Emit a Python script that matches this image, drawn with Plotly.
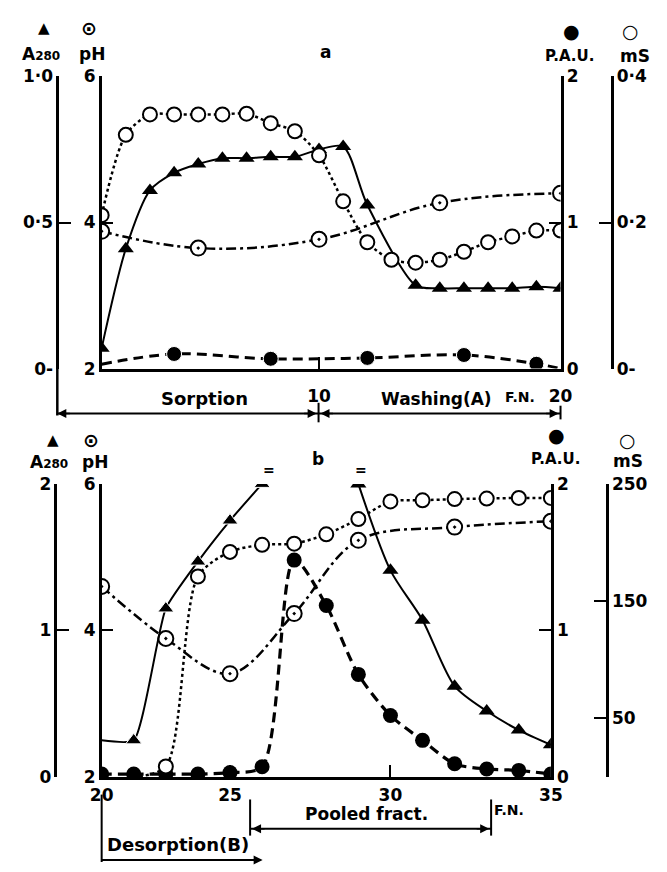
import plotly.graph_objects as go

W, H = 667, 872


def px(x):
    return x / W


def py(y):
    return 1 - y / H


# ---------------- Panel a data (fraction number F.N. 1-20) ----------------
a_fn_a280 = [1, 2, 3, 4, 5, 6, 7, 8, 9, 10, 11, 12, 14, 15, 16, 17, 18, 19, 20]
a_a280 = [0.07, 0.41, 0.61, 0.67, 0.70, 0.72, 0.72, 0.725, 0.725, 0.75, 0.76,
          0.56, 0.285, 0.275, 0.275, 0.275, 0.275, 0.28, 0.275]
a_fn_ms = [1, 2, 3, 4, 5, 6, 7, 8, 9, 10, 11, 12, 13, 14, 15, 16, 17, 18, 19, 20]
a_ms = [0.21, 0.32, 0.348, 0.348, 0.348, 0.348, 0.349, 0.336, 0.325, 0.292, 0.229,
        0.173, 0.149, 0.145, 0.149, 0.160, 0.173, 0.181, 0.189, 0.189]
a_fn_ph = [1, 5, 10, 15, 20]
a_ph = [3.88, 3.65, 3.77, 4.27, 4.40]
a_fn_pau = [1, 4, 8, 12, 16, 19, 20]
a_pau = [0.03, 0.10, 0.067, 0.073, 0.093, 0.033, 0.0]

# ---------------- Panel b data (F.N. 21-35) ----------------
b_fn_a280_1 = [21, 22, 23, 24, 25, 26]
b_a280_1 = [0.25, 0.25, 1.15, 1.47, 1.75, 2.0]
b_fn_a280_2 = [29, 30, 31, 32, 33, 34, 35]
b_a280_2 = [2.0, 1.41, 1.07, 0.62, 0.45, 0.32, 0.22]
b_fn_ph = [21, 23, 25, 27, 29, 32, 35]
b_ph = [4.6, 3.89, 3.41, 4.23, 5.23, 5.41, 5.49]
b_fn_ms = [22, 23, 24, 25, 26, 27, 28, 29, 30, 31, 32, 33, 34, 35]
b_ms = [0, 9, 171, 192, 198, 199, 207, 220, 235, 236, 237, 237.5, 238, 238]
b_fn_pau = [21, 22, 23, 24, 25, 26, 27, 28, 29, 30, 31, 32, 33, 34, 35]
b_pau = [0.02, 0.02, 0.02, 0.02, 0.03, 0.07, 1.48, 1.17, 0.70, 0.42, 0.25, 0.09,
         0.055, 0.045, 0.02]

# tick labels
a_x_ticks = [10, 20]
b_x_tickvals = [21, 25, 30, 35]
b_x_ticktext = ["20", "25", "30", "35"]

FONT = "DejaVu Sans"
BLACK = "black"


def sizes(n, s, skip_first=False, skip_last=False):
    out = [s] * n
    if skip_first:
        out[0] = 0
    if skip_last:
        out[-1] = 0
    return out


fig = go.Figure()

tri = dict(symbol="triangle-up", size=14, color=BLACK, opacity=1)
opn = dict(symbol="circle", size=14, color="white", opacity=1, line=dict(color=BLACK, width=2))
dotc = dict(symbol="circle-dot", size=15, color="white", opacity=1, line=dict(color=BLACK, width=2))
fil = dict(symbol="circle", size=15, color=BLACK, opacity=1)

DASHDOT = "10px,4px,3px,4px"
DASH = "10px,6px"

# ---- panel a ----
fig.add_trace(go.Scatter(x=a_fn_ph, y=a_ph, xaxis="x", yaxis="y", mode="lines+markers",
                         line=dict(color=BLACK, width=2.5, dash=DASHDOT, shape="spline", smoothing=1.1),
                         marker=dotc))
fig.add_trace(go.Scatter(x=a_fn_pau, y=a_pau, xaxis="x", yaxis="y3", mode="lines+markers",
                         line=dict(color=BLACK, width=3, dash=DASH, shape="spline", smoothing=1.0),
                         marker=dict(fil, size=sizes(len(a_fn_pau), 15, True, True))))
fig.add_trace(go.Scatter(x=a_fn_a280, y=a_a280, xaxis="x", yaxis="y2", mode="lines+markers",
                         line=dict(color=BLACK, width=2, shape="spline", smoothing=0.8),
                         marker=tri))
fig.add_trace(go.Scatter(x=a_fn_ms, y=a_ms, xaxis="x", yaxis="y4", mode="lines+markers",
                         line=dict(color=BLACK, width=2.5, dash="dot", shape="spline", smoothing=0.8),
                         marker=opn))

# ---- panel b ----
fig.add_trace(go.Scatter(x=b_fn_ph, y=b_ph, xaxis="x2", yaxis="y5", mode="lines+markers",
                         line=dict(color=BLACK, width=2.5, dash=DASHDOT, shape="spline", smoothing=1.0),
                         marker=dotc))
fig.add_trace(go.Scatter(x=b_fn_pau, y=b_pau, xaxis="x2", yaxis="y7", mode="lines+markers",
                         line=dict(color=BLACK, width=3.2, dash=DASH, shape="spline", smoothing=0.8),
                         marker=fil))
fig.add_trace(go.Scatter(x=b_fn_a280_1, y=b_a280_1, xaxis="x2", yaxis="y6", mode="lines+markers",
                         line=dict(color=BLACK, width=2, shape="spline", smoothing=0.5),
                         marker=dict(tri, size=sizes(len(b_fn_a280_1), 14, True))))
fig.add_trace(go.Scatter(x=b_fn_a280_2, y=b_a280_2, xaxis="x2", yaxis="y6", mode="lines+markers",
                         line=dict(color=BLACK, width=2, shape="spline", smoothing=0.8),
                         marker=tri))
fig.add_trace(go.Scatter(x=b_fn_ms, y=b_ms, xaxis="x2", yaxis="y8", mode="lines+markers",
                         line=dict(color=BLACK, width=2.5, dash="dot", shape="spline", smoothing=0.8),
                         marker=dict(opn, size=sizes(len(b_fn_ms), 14, True))))

TF = dict(family=FONT, size=17, color=BLACK, weight="bold")
common = dict(showgrid=False, zeroline=False, showline=True, linecolor=BLACK, linewidth=2.5,
              ticks="inside", ticklen=12, tickwidth=2, tickcolor=BLACK, tickfont=TF)

fig.update_layout(
    width=W, height=H, margin=dict(l=0, r=0, t=0, b=0),
    paper_bgcolor="white", plot_bgcolor="white", showlegend=False,
    xaxis=dict(common, domain=[px(93), px(569)], range=[1, 20], anchor="y",
               tickvals=a_x_ticks, ticktext=[str(v) for v in a_x_ticks],
               ticklabelstandoff=10),
    yaxis=dict(common, domain=[py(367), py(68)], range=[2, 6], anchor="x",
               tickvals=[2, 4, 6]),
    yaxis2=dict(common, overlaying="y", anchor="free", position=px(47), side="left",
                range=[0, 1], tickvals=[0, 0.5, 1], ticktext=["0-", "0·5", "1·0"]),
    yaxis3=dict(common, overlaying="y", anchor="x", side="right", range=[0, 2],
                tickvals=[0, 1, 2]),
    yaxis4=dict(common, overlaying="y", anchor="free", position=px(622), side="right",
                range=[0, 0.4], tickvals=[0, 0.2, 0.4], ticktext=["0-", "0·2", "0·4"]),
    xaxis2=dict(common, domain=[px(93), px(559)], range=[21, 35], anchor="y5",
                tickvals=b_x_tickvals, ticktext=b_x_ticktext, ticklabelstandoff=1),
    yaxis5=dict(common, domain=[py(785), py(485)], range=[2, 6], anchor="x2",
                tickvals=[2, 4, 6]),
    yaxis6=dict(common, overlaying="y5", anchor="free", position=px(45), side="left",
                range=[0, 2], tickvals=[0, 1, 2]),
    yaxis7=dict(common, overlaying="y5", anchor="x2", side="right", range=[0, 2],
                tickvals=[0, 1, 2]),
    yaxis8=dict(common, overlaying="y5", anchor="free", position=px(617), side="right",
                range=[0, 250], tickvals=[50, 150, 250]),
)

annots = []


def text(t, x, y, size=16, xanchor="center"):
    annots.append(dict(text=t, x=px(x), y=py(y), xref="paper", yref="paper",
                       showarrow=False, xanchor=xanchor, yanchor="middle",
                       font=dict(family=FONT, size=size, color=BLACK, weight="bold")))


A280 = "A<span style='font-size:12px'>280</span>"
# panel a headers
text("▲", 33, 18, 15)
text("⊙", 80, 18, 19)
text(A280, 30, 45, 17)
text("pH", 83, 45, 17)
text("a", 325, 43, 17)
text("●", 580, 22, 19)
text("○", 642, 22, 19)
text("P.A.U.", 578, 47, 15)
text("mS", 646, 47, 17)
# panel a bottom
text("Sorption", 200, 398, 18)
text("Washing(A)", 440, 398, 17)
text("F.N.", 527, 396, 14)
# panel b headers
text("▲", 43, 440, 15)
text("⊙", 82, 440, 19)
text(A280, 38, 463, 17)
text("pH", 86, 463, 17)
text("b", 317, 460, 17)
text("●", 565, 435, 19)
text("○", 638, 440, 19)
text("P.A.U.", 564, 460, 15)
text("mS", 639, 462, 17)
text("=", 267, 471, 14)
text("=", 362, 471, 14)
# panel b bottom
text("Pooled fract.", 368, 823, 17)
text("F.N.", 516, 819, 14)
text("Desorption(B)", 172, 854, 18)


def arrow(x_head, y, direction):
    annots.append(dict(x=px(x_head), y=py(y), xref="paper", yref="paper", text="",
                       showarrow=True, arrowhead=2, arrowsize=1.2, arrowwidth=1.5,
                       arrowcolor=BLACK, ax=-14 * direction, ay=0))


arrow(47, 413, -1)
arrow(316, 413, 1)
arrow(320, 413, -1)
arrow(567, 413, 1)
arrow(249, 838, -1)
arrow(495, 838, 1)
arrow(260, 870, 1)

fig.update_layout(annotations=annots)

shapes = []


def seg(x0, y0, x1, y1, w=2):
    shapes.append(dict(type="line", xref="paper", yref="paper", x0=px(x0), y0=py(y0),
                       x1=px(x1), y1=py(y1), line=dict(color=BLACK, width=w)))


seg(47, 367, 47, 415, 2.5)
seg(47, 413, 569, 413)
seg(318, 402, 318, 422)
seg(569, 405, 569, 419)
seg(247, 808, 247, 845)
seg(497, 808, 497, 845)
seg(247, 838, 497, 838)
seg(93, 803, 93, 872)
seg(93, 870, 255, 870)
fig.update_layout(shapes=shapes)

fig.write_html("out.html")
